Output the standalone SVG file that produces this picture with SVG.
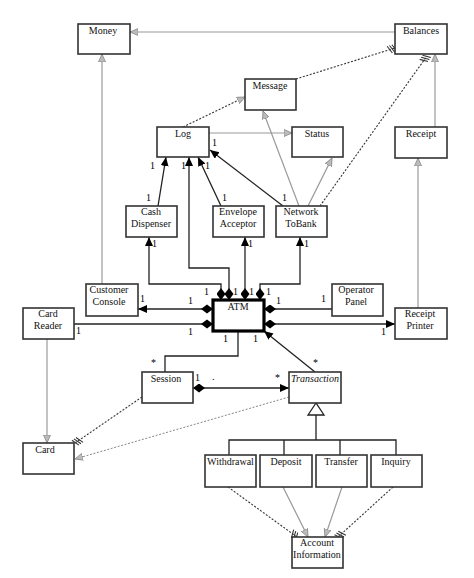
<svg xmlns="http://www.w3.org/2000/svg" width="474" height="578" viewBox="0 0 474 578">
<style>
.box{fill:#fff;stroke:#333;stroke-width:1.6}
.atm{stroke:#000;stroke-width:3.2}
.t{font-family:"Liberation Serif","Times New Roman",serif;font-size:10px;fill:#111;text-anchor:middle}
.n{font-family:"Liberation Serif","Times New Roman",serif;font-size:10px;fill:#000}
.k{fill:none;stroke:#222;stroke-width:1.3}
.g{fill:none;stroke:#9a9a9a;stroke-width:1.2}
.d{fill:none;stroke:#333;stroke-width:1.1;stroke-dasharray:2,1.6}
.dg{fill:none;stroke:#888;stroke-width:1;stroke-dasharray:2,1.6}
</style>
<defs>
<marker id="ab" markerUnits="userSpaceOnUse" markerWidth="12" markerHeight="12" refX="9" refY="4" orient="auto"><path d="M0,0 L9,4 L0,8 Z" fill="#000"/></marker>
<marker id="ag" markerUnits="userSpaceOnUse" markerWidth="12" markerHeight="12" refX="8" refY="4" orient="auto"><path d="M0,0.5 L8,4 L0,7.5 Z" fill="#bbb" stroke="#888" stroke-width="0.8"/></marker>
<marker id="ah" markerUnits="userSpaceOnUse" markerWidth="14" markerHeight="12" refX="10" refY="5" orient="auto"><path d="M3,1 L6,9 M5.5,1 L8.5,9 M8,1 L11,9" stroke="#333" stroke-width="1.1" fill="none"/></marker>
<marker id="dm" markerUnits="userSpaceOnUse" markerWidth="14" markerHeight="10" refX="0" refY="4.5" orient="auto"><path d="M0,4.5 L6,0 L12,4.5 L6,9 Z" fill="#000"/></marker>
</defs>

<g id="connectors">
<path class="g" d="M395,32 H130" marker-end="url(#ag)"/>
<path class="g" d="M102,284 V54" marker-end="url(#ag)"/>
<path class="g" d="M435,127 V54" marker-end="url(#ag)"/>
<path class="g" d="M418,308 V158" marker-end="url(#ag)"/>
<path class="g" d="M209,133 H292" marker-end="url(#ag)"/>
<path class="g" d="M299,206 L263,111" marker-end="url(#ag)"/>
<path class="g" d="M308,206 L332,158" marker-end="url(#ag)"/>
<path class="g" d="M47,339 V443" marker-end="url(#ag)"/>
<path class="g" d="M283,487 L308,537" marker-end="url(#ag)"/>
<path class="g" d="M342,487 L325,537" marker-end="url(#ag)"/>
<path class="d" d="M183,127 L245,97" marker-end="url(#ag)"/>
<path class="d" d="M296,79 L395,48" marker-end="url(#ah)"/>
<path class="d" d="M320,206 L427,56" marker-end="url(#ah)"/>
<path class="d" d="M142,397 L75,443" marker-end="url(#ah)"/>
<path class="dg" d="M289,397 L75,459" marker-end="url(#ag)"/>
<path class="d" d="M228,487 L297,537" marker-end="url(#ah)"/>
<path class="d" d="M393,487 L338,537" marker-end="url(#ah)"/>
<path class="k" d="M158,206 L166,157" marker-end="url(#ab)"/>
<path class="k" d="M221,206 L198,157" marker-end="url(#ab)"/>
<path class="k" d="M283,206 L210,150" marker-end="url(#ab)"/>
<path class="k" d="M221,300 V284 H149 V237" marker-start="url(#dm)" marker-end="url(#ab)"/>
<path class="k" d="M229,300 V268 H189 V157" marker-start="url(#dm)" marker-end="url(#ab)"/>
<path class="k" d="M245,300 V237" marker-start="url(#dm)" marker-end="url(#ab)"/>
<path class="k" d="M260,300 V284 H300 V237" marker-start="url(#dm)" marker-end="url(#ab)"/>
<path class="k" d="M213,309 H138" marker-start="url(#dm)" marker-end="url(#ab)"/>
<path class="k" d="M213,324 H74" marker-start="url(#dm)"/>
<path class="k" d="M264,309 H332" marker-start="url(#dm)"/>
<path class="k" d="M264,324 H395" marker-start="url(#dm)" marker-end="url(#ab)"/>
<path class="k" d="M238,331 V356 H165 V372"/>
<path class="k" d="M315,372 L264,331" marker-end="url(#ab)"/>
<path class="k" d="M193,388 H289" marker-start="url(#dm)" marker-end="url(#ab)"/>
<path class="k" d="M316,415 V440 M229,455 V440 H396 V455 M284,440 V455 M340,440 V455"/>
<polygon points="316,403 308,415 324,415" fill="#fff" stroke="#222" stroke-width="1.3"/>
<g class="n">
<text x="150" y="169">1</text>
<text x="181" y="169">1</text>
<text x="205" y="169">1</text>
<text x="212" y="146">1</text>
<text x="146" y="201">1</text>
<text x="222" y="201">1</text>
<text x="282" y="201">1</text>
<text x="152" y="247">1</text>
<text x="248" y="247">1</text>
<text x="304" y="247">1</text>
<text x="204" y="295">1</text>
<text x="233" y="295">1</text>
<text x="249" y="295">1</text>
<text x="266" y="295">1</text>
<text x="140" y="302">1</text>
<text x="188" y="304">1</text>
<text x="276" y="304">1</text>
<text x="321" y="302">1</text>
<text x="76" y="334">1</text>
<text x="188" y="335">1</text>
<text x="381" y="335">1</text>
<text x="223" y="342">1</text>
<text x="253" y="342">1</text>
<text x="151" y="366">*</text>
<text x="313" y="366">*</text>
<text x="195" y="381">1</text>
<text x="212" y="380">.</text>
<text x="275" y="381">*</text>
</g>
</g>

<g id="money"><rect class="box" x="78" y="24" width="52" height="30"/><text class="t" x="103" y="34">Money</text></g>
<g id="balances"><rect class="box" x="395" y="24" width="52" height="30"/><text class="t" x="421" y="34">Balances</text></g>
<g id="message"><rect class="box" x="245" y="79" width="51" height="31"/><text class="t" x="270" y="89">Message</text></g>
<g id="log"><rect class="box" x="157" y="127" width="52" height="30"/><text class="t" x="183" y="137">Log</text></g>
<g id="status"><rect class="box" x="292" y="127" width="51" height="30"/><text class="t" x="317" y="137">Status</text></g>
<g id="receipt"><rect class="box" x="395" y="127" width="52" height="31"/><text class="t" x="421" y="137">Receipt</text></g>
<g id="cash-dispenser"><rect class="box" x="126" y="206" width="51" height="31"/><text class="t" x="151" y="215">Cash</text><text class="t" x="151" y="226.5">Dispenser</text></g>
<g id="envelope-acceptor"><rect class="box" x="213" y="206" width="51" height="31"/><text class="t" x="238" y="215">Envelope</text><text class="t" x="238" y="226.5">Acceptor</text></g>
<g id="network-tobank"><rect class="box" x="276" y="206" width="51" height="31"/><text class="t" x="301" y="215">Network</text><text class="t" x="301" y="226.5">ToBank</text></g>
<g id="customer-console"><rect class="box" x="86" y="284" width="52" height="32"/><text class="t" x="109" y="293">Customer</text><text class="t" x="109" y="304.5">Console</text></g>
<g id="atm"><rect class="box atm" x="213" y="300" width="51" height="31"/><text class="t" x="238" y="310">ATM</text></g>
<g id="operator-panel"><rect class="box" x="332" y="284" width="51" height="32"/><text class="t" x="356" y="293">Operator</text><text class="t" x="356" y="304.5">Panel</text></g>
<g id="card-reader"><rect class="box" x="23" y="308" width="51" height="31"/><text class="t" x="48" y="317">Card</text><text class="t" x="48" y="328.5">Reader</text></g>
<g id="receipt-printer"><rect class="box" x="395" y="308" width="52" height="31"/><text class="t" x="420" y="317">Receipt</text><text class="t" x="420" y="328.5">Printer</text></g>
<g id="session"><rect class="box" x="142" y="372" width="51" height="31"/><text class="t" x="166" y="382">Session</text></g>
<g id="transaction"><rect class="box" x="289" y="372" width="52" height="31"/><text class="t" x="315" y="382" font-style="italic">Transaction</text></g>
<g id="card"><rect class="box" x="23" y="443" width="51" height="31"/><text class="t" x="45" y="453">Card</text></g>
<g id="withdrawal"><rect class="box" x="205" y="455" width="51" height="32"/><text class="t" x="230.5" y="465">Withdrawal</text></g>
<g id="deposit"><rect class="box" x="260" y="455" width="52" height="32"/><text class="t" x="286" y="465">Deposit</text></g>
<g id="transfer"><rect class="box" x="316" y="455" width="51" height="32"/><text class="t" x="341" y="465">Transfer</text></g>
<g id="inquiry"><rect class="box" x="371" y="455" width="51" height="32"/><text class="t" x="396" y="465">Inquiry</text></g>
<g id="account-information"><rect class="box" x="292" y="537" width="51" height="31"/><text class="t" x="317" y="546">Account</text><text class="t" x="317" y="557.5">Information</text></g>
</svg>
